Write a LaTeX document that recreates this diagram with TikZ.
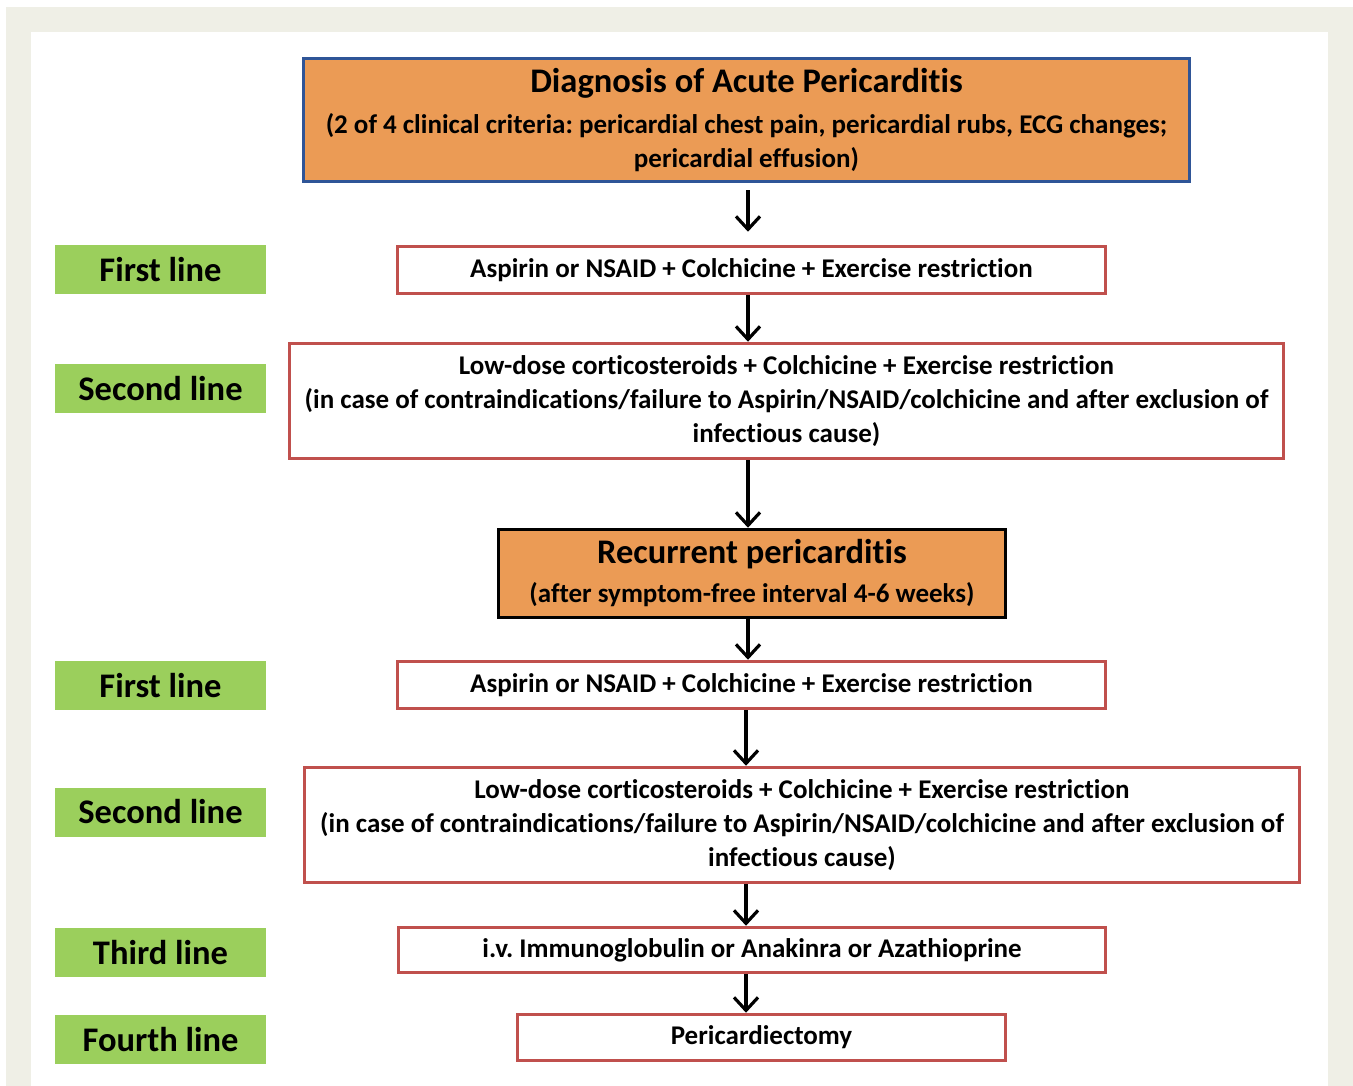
\documentclass[tikz,border=0pt]{standalone}
\usepackage{fontspec}
\setmainfont[Ligatures=NoCommon]{Carlito}
\usetikzlibrary{arrows.meta}
\definecolor{frameback}{RGB}{239,239,230}
\definecolor{diagorange}{RGB}{235,155,85}
\definecolor{diagblue}{RGB}{47,85,151}
\definecolor{boxred}{RGB}{192,80,77}
\definecolor{linegreen}{RGB}{155,207,92}
\newcommand{\headfont}{\fontsize{34.5}{40}\selectfont}
\newcommand{\bodyfont}{\fontsize{27}{34}\selectfont}
\frenchspacing

\begin{document}
\begin{tikzpicture}[x=1pt,y=-1pt,font=\bfseries]
\tikzstyle{box}=[draw=boxred,line width=3.5pt,fill=white,align=center,inner sep=0pt,font=\bfseries\bodyfont]
\tikzstyle{headbox}=[line width=3.5pt,fill=diagorange,align=center,inner sep=0pt,font=\bfseries\bodyfont]
\tikzstyle{linelabel}=[fill=linegreen,minimum width=211pt,minimum height=49pt,inner sep=0pt,font=\bfseries\headfont]
\tikzstyle{arr}=[line width=3.2pt,-{Straight Barb[length=13pt,width=24pt]}]
% page and frame
\useasboundingbox (0,0) rectangle (1353,1086);
\fill[frameback] (6,7) rectangle (1353,1086);
\fill[white] (31,32) rectangle (1328,1086);
\coordinate (axis) at (748,0);
\coordinate (axislow) at (746,0);
% main column
\node[headbox,draw=diagblue,minimum width=886pt,minimum height=123pt] (diag) at (746.5,120)
  {{\headfont Diagnosis of Acute Pericarditis}\\[7pt]
   (2 of 4 clinical criteria: pericardial chest pain, pericardial rubs, ECG changes;\\
   pericardial effusion)};
\node[box,minimum width=708pt,minimum height=47pt] (first) at (751.5,270)
  {Aspirin or NSAID + Colchicine + Exercise restriction};
\node[box,minimum width=994pt,minimum height=115pt] (second) at (786.5,401)
  {Low-dose corticosteroids + Colchicine + Exercise restriction\\
   (in case of contraindications/failure to Aspirin/NSAID/colchicine and after exclusion of\\
   infectious cause)};
\node[headbox,draw=black,minimum width=507pt,minimum height=88pt] (recur) at (752,573.5)
  {{\headfont Recurrent pericarditis}\\[5pt]
   (after symptom-free interval 4-6 weeks)};
\node[box,minimum width=708pt,minimum height=47pt] (rfirst) at (751.5,685)
  {Aspirin or NSAID + Colchicine + Exercise restriction};
\node[box,minimum width=995pt,minimum height=115pt] (rsecond) at (802,825)
  {Low-dose corticosteroids + Colchicine + Exercise restriction\\
   (in case of contraindications/failure to Aspirin/NSAID/colchicine and after exclusion of\\
   infectious cause)};
\node[box,minimum width=707pt,minimum height=45pt] (third) at (752,950)
  {i.v. Immunoglobulin or Anakinra or Azathioprine};
\node[box,minimum width=488pt,minimum height=46pt] (fourth) at (761.5,1037.5)
  {Pericardiectomy};
% line labels
\foreach \name/\y/\txt in {lfirst/269.5/First line,lsecond/388.5/Second line,
    lrfirst/685.5/First line,lrsecond/812/Second line,lthird/952.5/Third line,lfourth/1039.5/Fourth line}{
  \node[linelabel] (\name) at (160.5,\y) {\txt};
}
% arrows
\draw[arr,shorten <=7pt,shorten >=13pt] (diag.south -| axis) -- (first.north -| axis);
\foreach \a/\b in {first/second,second/recur,recur/rfirst}{
  \draw[arr] (\a.south -| axis) -- (\b.north -| axis);
}
\foreach \a/\b in {rfirst/rsecond,rsecond/third,third/fourth}{
  \draw[arr] (\a.south -| axislow) -- (\b.north -| axislow);
}
\end{tikzpicture}
\end{document}
